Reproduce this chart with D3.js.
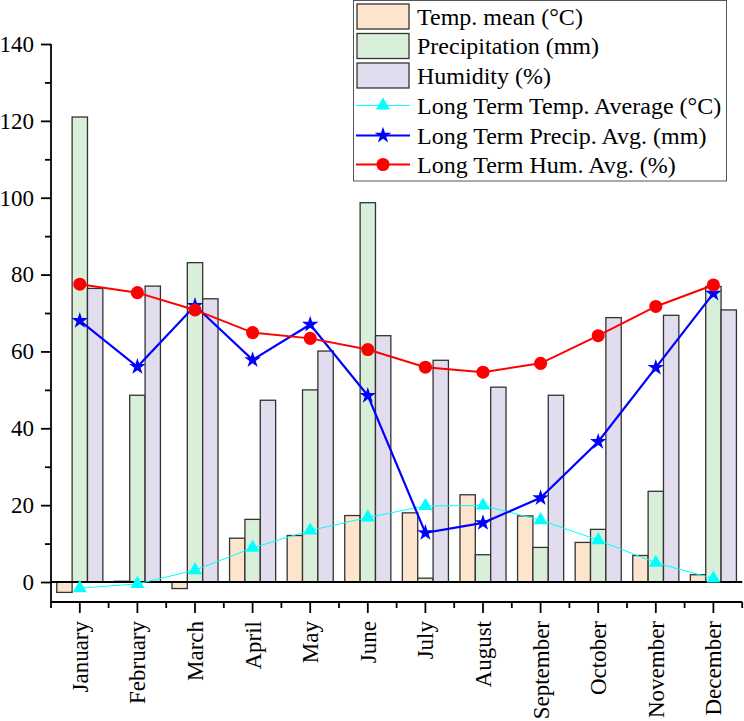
<!DOCTYPE html>
<html><head><meta charset="utf-8">
<script src="https://cdn.jsdelivr.net/npm/d3@7"></script>
<style>body{margin:0;background:#fff}svg{display:block}text{font-family:"Liberation Serif","Times New Roman",serif}</style>
</head><body>
<script>
const months = ["January","February","March","April","May","June","July","August","September","October","November","December"];
const tempMean = [-2.7, 0.2, -1.7, 11.4, 12.1, 17.3, 18.0, 22.7, 17.2, 10.3, 6.9, 1.9];
const precipitation = [121, 48.6, 83.1, 16.3, 50.0, 98.7, 1.0, 7.1, 9.0, 13.7, 23.6, 76.9];
const humidity = [76.4, 77.0, 73.7, 47.3, 60.1, 64.1, 57.7, 50.7, 48.6, 68.8, 69.4, 70.8];
const ltTemp = [-1.6, -0.5, 3.1, 8.9, 13.4, 16.8, 19.8, 19.9, 16.1, 10.9, 5.0, 0.9];
const ltPrecip = [68.0, 56.0, 71.9, 57.8, 67.0, 48.5, 12.8, 15.4, 21.9, 36.5, 55.8, 75.1];
const ltHum = [77.5, 75.3, 70.8, 64.9, 63.4, 60.5, 55.9, 54.6, 56.9, 64.1, 71.7, 77.3];
const majorTicks = [0,20,40,60,80,100,120,140];
const minorTicks = [10,30,50,70,90,110,130];
const barLabels = ["Temp. mean (°C)","Precipitation (mm)","Humidity (%)"];
const lineLabels = ["Long Term Temp. Average (°C)","Long Term Precip. Avg. (mm)","Long Term Hum. Avg. (%)"];

const W = 744, H = 721;
const FONT = '"Liberation Serif","Times New Roman",serif';
const svg = d3.select("body").append("svg").attr("width", W).attr("height", H);
const x = d3.scaleBand().domain(months).range([51, 742.2]).padding(0);
const y = d3.scaleLinear().domain([-5.2, 140]).range([602, 44]);
const barSeries = [tempMean, precipitation, humidity];
const barFills = ["#fde5cd", "#d9efd9", "#e2ddee"];
const inner = d3.scaleBand().domain([0,1,2]).range([0, x.bandwidth()*0.8]);
const off = x.bandwidth()*0.1;

// bars
barSeries.forEach((s, si) => {
  svg.append("g").selectAll("rect").data(s).join("rect")
    .attr("x", (d,i) => x(months[i]) + off + inner(si))
    .attr("width", inner.bandwidth())
    .attr("y", d => Math.min(y(d), y(0)))
    .attr("height", d => Math.abs(y(d) - y(0)))
    .attr("fill", barFills[si]).attr("stroke", "#333").attr("stroke-width", 1.3);
});
// zero line
svg.append("line").attr("x1", 51).attr("x2", 742.2).attr("y1", y(0)).attr("y2", y(0))
  .attr("stroke", "#000").attr("stroke-width", 1.8);

// axes
const yAx = svg.append("g").attr("transform", "translate(51,0)")
  .call(d3.axisLeft(y).tickValues(majorTicks).tickSize(10).tickPadding(7).tickFormat(d3.format("d")));
svg.append("g").attr("transform", "translate(51,0)")
  .call(d3.axisLeft(y).tickValues(minorTicks).tickSize(6).tickFormat(""))
  .select(".domain").remove();
yAx.select(".domain").attr("d", `M0,${y(140)}V${y(-5.2)}`);
const xAx = svg.append("g").attr("transform", "translate(0,602)")
  .call(d3.axisBottom(x).tickSize(11).tickSizeOuter(0).tickPadding(6));
xAx.select(".domain").attr("d", "M51,0H742.2");
xAx.selectAll(".tick text").attr("transform", "rotate(-90)").attr("text-anchor", "end")
  .attr("x", -19).attr("y", 0).attr("dy", "0.35em");
const bounds = months.map(m => x(m)).concat([x(months[11]) + x.bandwidth()]);
svg.append("g").attr("transform", "translate(0,602)").selectAll("line").data(bounds).join("line")
  .attr("x1", d => d).attr("x2", d => d).attr("y1", 0).attr("y2", 6).attr("stroke", "#000").attr("stroke-width", 1.8);
svg.selectAll(".domain, .tick line").attr("stroke", "#000").attr("stroke-width", 1.8);
svg.selectAll(".tick text").attr("font-size", 23).attr("fill", "#000").style("font-family", FONT);

// lines
const cx = i => x(months[i]) + x.bandwidth()/2;
const lineGen = d3.line().x((d,i) => cx(i)).y(d => y(d));
const lineSpecs = [
  {data: ltTemp, color: "#00ffff", w: 1, sym: d3.symbolTriangle, size: 85},
  {data: ltPrecip, color: "#0000ff", w: 2.2, sym: d3.symbolStar, size: 85},
  {data: ltHum, color: "#ff0000", w: 2, sym: d3.symbolCircle, size: 135}
];
lineSpecs.forEach(s => {
  svg.append("path").datum(s.data).attr("d", lineGen).attr("fill", "none")
    .attr("stroke", s.color).attr("stroke-width", s.w);
  svg.append("g").selectAll("path").data(s.data).join("path")
    .attr("transform", (d,i) => `translate(${cx(i)},${y(d)})`)
    .attr("d", d3.symbol().type(s.sym).size(s.size)).attr("fill", s.color);
});

// legend
const lg = svg.append("g");
lg.append("rect").attr("x", 353.5).attr("y", 0.5).attr("width", 373).attr("height", 180.5)
  .attr("fill", "#fff").attr("stroke", "#555").attr("stroke-width", 1);
const rowY = [16.5, 46, 75.5, 105.5, 135.5, 164.5];
barLabels.forEach((t, i) => {
  lg.append("rect").attr("x", 357).attr("y", rowY[i]-12.5).attr("width", 52).attr("height", 25)
    .attr("fill", barFills[i]).attr("stroke", "#333").attr("stroke-width", 1.3);
  lg.append("text").attr("x", 417).attr("y", rowY[i]).attr("dy", "0.35em").attr("font-size", 24)
    .style("font-family", FONT).text(t);
});
lineLabels.forEach((t, j) => {
  const i = j + 3, s = lineSpecs[j];
  lg.append("line").attr("x1", 356).attr("x2", 410).attr("y1", rowY[i]).attr("y2", rowY[i])
    .attr("stroke", s.color).attr("stroke-width", s.w);
  lg.append("path").attr("transform", `translate(383,${rowY[i]})`)
    .attr("d", d3.symbol().type(s.sym).size(s.size)).attr("fill", s.color);
  lg.append("text").attr("x", 417).attr("y", rowY[i]).attr("dy", "0.35em").attr("font-size", 24)
    .style("font-family", FONT).text(t);
});
</script>
</body></html>
